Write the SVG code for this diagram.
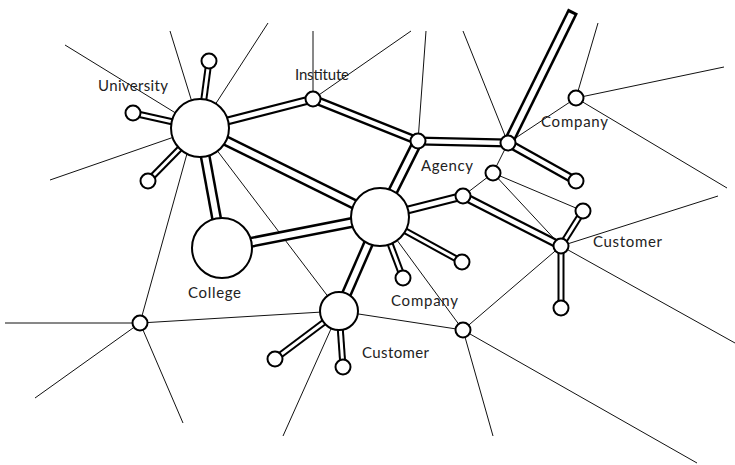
<svg xmlns="http://www.w3.org/2000/svg" xmlns:xlink="http://www.w3.org/1999/xlink" width="735" height="465" viewBox="0 0 735 465">
<style>
.thin{stroke:#111;stroke-width:1;fill:none}
.to{stroke:#000;fill:none}
.ti{stroke:#fff;fill:none}
.L.to{stroke-width:11}.L.ti{stroke-width:6}
.M.to{stroke-width:9}.M.ti{stroke-width:4.5}
.S.to{stroke-width:7}.S.ti{stroke-width:3}
.n{fill:#fff;stroke:#000;stroke-width:2}
.lbl{font-family:Lato,"DejaVu Sans",sans-serif;font-size:15px;fill:#222}
</style>
<defs>
<path id="t1" d="M200,128 L209,61"/>
<path id="t2" d="M200,128 L133,113"/>
<path id="t3" d="M200,128 L148,181"/>
<path id="t4" d="M200,128 L313,99"/>
<path id="t5" d="M200,128 L380,217"/>
<path id="t6" d="M200,128 L222,248"/>
<path id="t7" d="M222,248 L380,217"/>
<path id="t8" d="M313,99 L418,141"/>
<path id="t9" d="M418,141 L508,143"/>
<path id="t10" d="M418,141 L380,217"/>
<path id="t11" d="M508,143 L573,11"/>
<path id="t11i" d="M508,143 L571.6,13.8"/>
<path id="t12" d="M508,143 L576,181"/>
<path id="t13" d="M380,217 L463,196"/>
<path id="t14" d="M463,196 L561,246"/>
<path id="t15" d="M380,217 L462,262"/>
<path id="t16" d="M380,217 L403,278"/>
<path id="t17" d="M380,217 L339,311"/>
<path id="t18" d="M339,311 L275,359"/>
<path id="t19" d="M339,311 L343,367"/>
<path id="t20" d="M561,246 L583,211"/>
<path id="t21" d="M561,246 L561,308"/>
</defs>
<rect width="735" height="465" fill="#fff"/>
<g id="connectors">
<g class="thin">
<line x1="65" y1="45" x2="200" y2="128"/>
<line x1="170" y1="31" x2="200" y2="128"/>
<line x1="268" y1="23" x2="200" y2="128"/>
<line x1="50" y1="180" x2="200" y2="128"/>
<line x1="200" y1="128" x2="339" y2="311"/>
<line x1="188" y1="150" x2="140" y2="323"/>
<line x1="5" y1="323" x2="140" y2="323"/>
<line x1="35" y1="398" x2="140" y2="323"/>
<line x1="183" y1="423" x2="140" y2="323"/>
<line x1="140" y1="323" x2="339" y2="311"/>
<line x1="339" y1="311" x2="283" y2="436"/>
<line x1="339" y1="311" x2="463" y2="330"/>
<line x1="380" y1="217" x2="463" y2="330"/>
<line x1="463" y1="330" x2="493" y2="436"/>
<line x1="463" y1="330" x2="697" y2="463"/>
<line x1="463" y1="330" x2="561" y2="246"/>
<line x1="561" y1="246" x2="735" y2="343"/>
<line x1="561" y1="246" x2="718" y2="196"/>
<line x1="561" y1="246" x2="493" y2="173"/>
<line x1="493" y1="173" x2="463" y2="196"/>
<line x1="493" y1="173" x2="583" y2="211"/>
<line x1="493" y1="173" x2="508" y2="143"/>
<line x1="508" y1="143" x2="576" y2="98"/>
<line x1="576" y1="98" x2="598" y2="23"/>
<line x1="576" y1="98" x2="724" y2="67"/>
<line x1="576" y1="98" x2="727" y2="188"/>
<line x1="508" y1="143" x2="463" y2="31"/>
<line x1="418" y1="141" x2="426" y2="31"/>
<line x1="313" y1="99" x2="313" y2="31"/>
<line x1="313" y1="99" x2="411" y2="31"/>
</g>
<g id="tubes-outer" class="to">
<use xlink:href="#t1" class="to S"/><use xlink:href="#t2" class="to S"/><use xlink:href="#t3" class="to S"/>
<use xlink:href="#t4" class="to M"/><use xlink:href="#t5" class="to L"/><use xlink:href="#t6" class="to L"/>
<use xlink:href="#t7" class="to L"/><use xlink:href="#t8" class="to M"/><use xlink:href="#t9" class="to M"/>
<use xlink:href="#t10" class="to L"/><use xlink:href="#t11" class="to L"/><use xlink:href="#t12" class="to M"/>
<use xlink:href="#t13" class="to M"/><use xlink:href="#t14" class="to M"/><use xlink:href="#t15" class="to S"/>
<use xlink:href="#t16" class="to S"/><use xlink:href="#t17" class="to L"/><use xlink:href="#t18" class="to S"/>
<use xlink:href="#t19" class="to S"/><use xlink:href="#t20" class="to S"/><use xlink:href="#t21" class="to S"/>
</g>
<g id="tubes-inner" class="ti">
<use xlink:href="#t1" class="ti S"/><use xlink:href="#t2" class="ti S"/><use xlink:href="#t3" class="ti S"/>
<use xlink:href="#t4" class="ti M"/><use xlink:href="#t5" class="ti L"/><use xlink:href="#t6" class="ti L"/>
<use xlink:href="#t7" class="ti L"/><use xlink:href="#t8" class="ti M"/><use xlink:href="#t9" class="ti M"/>
<use xlink:href="#t10" class="ti L"/><use xlink:href="#t11i" class="ti L"/><use xlink:href="#t12" class="ti M"/>
<use xlink:href="#t13" class="ti M"/><use xlink:href="#t14" class="ti M"/><use xlink:href="#t15" class="ti S"/>
<use xlink:href="#t16" class="ti S"/><use xlink:href="#t17" class="ti L"/><use xlink:href="#t18" class="ti S"/>
<use xlink:href="#t19" class="ti S"/><use xlink:href="#t20" class="ti S"/><use xlink:href="#t21" class="ti S"/>
</g>
</g>
<g id="university"><circle class="n" cx="200" cy="128" r="29"/><text class="lbl" x="98" y="91" textLength="70">University</text></g>
<g id="uni-sat1"><circle class="n" cx="209" cy="61" r="7.5"/></g>
<g id="uni-sat2"><circle class="n" cx="133" cy="113" r="7.5"/></g>
<g id="uni-sat3"><circle class="n" cx="148" cy="181" r="7.5"/></g>
<g id="institute"><circle class="n" cx="313" cy="99" r="7.5"/><text class="lbl" x="295" y="80" textLength="54">Institute</text></g>
<g id="agency"><circle class="n" cx="418" cy="141" r="7.5"/><text class="lbl" x="421" y="171" textLength="52">Agency</text></g>
<g id="junction"><circle class="n" cx="508" cy="143" r="7.5"/></g>
<g id="junction-sat"><circle class="n" cx="576" cy="181" r="7.5"/></g>
<g id="company-top"><circle class="n" cx="576" cy="98" r="7.5"/><text class="lbl" x="541" y="127" textLength="67">Company</text></g>
<g id="center"><circle class="n" cx="380" cy="217" r="29"/></g>
<g id="college"><circle class="n" cx="222" cy="248" r="30"/><text class="lbl" x="188" y="298" textLength="53">College</text></g>
<g id="node-463-196"><circle class="n" cx="463" cy="196" r="7.5"/></g>
<g id="node-493-173"><circle class="n" cx="493" cy="173" r="7.5"/></g>
<g id="customer-right"><circle class="n" cx="561" cy="246" r="7.5"/><text class="lbl" x="593" y="247" textLength="69">Customer</text></g>
<g id="cust-sat1"><circle class="n" cx="583" cy="211" r="7.5"/></g>
<g id="cust-sat2"><circle class="n" cx="561" cy="308" r="7.5"/></g>
<g id="center-sat1"><circle class="n" cx="462" cy="262" r="7.5"/></g>
<g id="center-sat2"><circle class="n" cx="403" cy="278" r="7.5"/></g>
<g id="company-low"><text class="lbl" x="391" y="306" textLength="67">Company</text></g>
<g id="customer-hub"><circle class="n" cx="339" cy="311" r="19"/><text class="lbl" x="362" y="358" textLength="67">Customer</text></g>
<g id="hub-sat1"><circle class="n" cx="275" cy="359" r="7.5"/></g>
<g id="hub-sat2"><circle class="n" cx="343" cy="367" r="7.5"/></g>
<g id="node-140-323"><circle class="n" cx="140" cy="323" r="7.5"/></g>
<g id="node-463-330"><circle class="n" cx="463" cy="330" r="7.5"/></g>
</svg>
